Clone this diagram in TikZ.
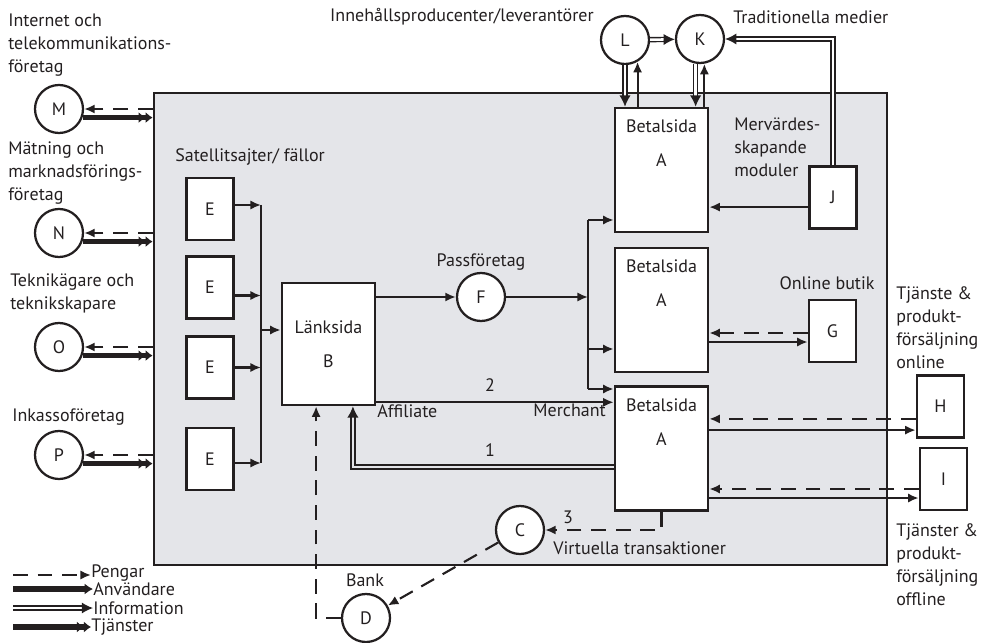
\documentclass[tikz,border=0pt]{standalone}
\usepackage{fontspec}
\setmainfont{PT Sans}
\usetikzlibrary{arrows.meta}
\definecolor{portalink}{HTML}{231F20}
\definecolor{portalgrey}{HTML}{E4E5E9}

\begin{document}
\begin{tikzpicture}[
  x=0.025cm,
  y=-0.025cm,
  every node/.style={font=\fontsize{12.8pt}{16.3pt}\selectfont, text=portalink},
  pagebox/.style={draw=portalink, line width=1.8pt, fill=white, align=center,
    minimum width=1.175cm, minimum height=1.55cm, inner sep=0pt},
  sitebox/.style={pagebox, minimum width=2.325cm, minimum height=3.1cm},
  actor/.style={circle, draw=portalink, line width=1.6pt, fill=white,
    minimum size=1.2cm, inner sep=0pt},
  tag/.style={inner sep=0pt, align=left},
  wire/.style={draw=portalink, line width=1.5pt},
  flow/.style={wire, -{Latex[length=7.5pt,width=6.5pt]}},
  pengar/.style={flow, dash pattern=on 10.5pt off 7pt},
  info/.style={draw=portalink, line width=1pt, double=#1, double distance=1.8pt,
    -{Latex[length=8pt,width=8pt]}},
  info/.default=portalgrey,
  anvandare/.style={draw=portalink, line width=3.8pt, -{Latex[length=6pt,width=8pt]}},
  tjanster/.style={draw=portalink, line width=3.8pt,
    -{Latex[length=5pt,width=8pt]Latex[length=5pt,width=8pt]}}
]
  \useasboundingbox (0,0) rectangle (982,643);

  % the portal
  \node[draw=portalink, line width=1.8pt, fill=portalgrey, inner sep=0pt,
    minimum width=18.325cm, minimum height=11.8cm] (portal) at (520.5,329) {};

  % actors on the left
  \node[actor] (M) at (59,109) {M};
  \node[actor] (N) at (59,233) {N};
  \node[actor] (O) at (59,347) {O};
  \node[actor] (P) at (59,455) {P};
  \node[tag, anchor=west] (Mt) at (8,45) {Internet och\\telekommunikations-\\företag};
  \node[tag, anchor=west] (Nt) at (8,173) {Mätning och\\marknadsförings-\\företag};
  \node[tag, anchor=west] (Ot) at (10,293) {Teknikägare och\\teknikskapare};
  \node[tag, anchor=west] (Pt) at (12,417) {Inkassoföretag};
  \foreach \a in {M,N,O,P} {
    \draw[pengar] (portal.west |- \a) -- (\a);
    \draw[tjanster] (\a.-20) -- (\a.-20 -| portal.west);
  }

  % satellites
  \node[tag, anchor=west] (sat) at (175,157) {Satellitsajter/ fällor};
  \foreach \i/\y in {1/209,2/287.5,3/367.5,4/459}
    \node[pagebox] (E\i) at (210,\y) {E};
  \node[pagebox, minimum width=2.325cm, minimum height=3.05cm] (B) at (328.5,344) {Länksida\\[7.8pt]B};
  \coordinate (ebus) at (261,330);
  \foreach \i/\s in {1/0.1,2/-0.2,3/0,4/-0.1}
    \draw[flow] ([yshift=\s cm]E\i.east) -- ([yshift=\s cm]E\i.east -| ebus);
  \draw[wire] ([yshift=0.1cm]E1.east -| ebus) -- ([yshift=-0.1cm]E4.east -| ebus);
  \draw[flow] (ebus) -- (ebus -| B.west);

  % pay sites
  \foreach \i/\y in {1/170,2/310,3/448.5} {
    \node[sitebox] (A\i) at (661.5,\y) {};
    \node[anchor=north, align=center, inner sep=0pt] (At\i) at ([yshift=-0.33cm]A\i.north) {Betalsida\\[7.8pt]A};
  }

  \node[actor] (F) at (481,297) {F};
  \node[tag] (Ft) at (481,262) {Passföretag};
  \draw[flow] (B.east |- F) -- (F);
  \coordinate (abus1) at (588,220);
  \coordinate (abus2) at (588,349);
  \coordinate (abus3) at (588,389);
  \draw[flow] (F) -- (F -| abus1);
  \draw[wire] (abus1) -- (abus3);
  \foreach \i in {1,2,3}
    \draw[flow] (abus\i) -- (abus\i -| A\i.west);

  % affiliate and merchant
  \draw[flow] ([yshift=0.1cm]B.south east) -- ([yshift=0.1cm]B.south east -| A3.west);
  \node[tag] (two) at (490,385) {2};
  \node[tag, anchor=north west] (aff) at (377,404) {Affiliate};
  \node[tag, anchor=north east] (mer) at (606,404) {Merchant};
  \draw[info] ([yshift=-0.46cm]A3.west) -| ([xshift=0.61cm]B.south);
  \node[tag] (one) at (490,450) {1};

  % bank
  \node[actor] (C) at (520,530) {C};
  \node[actor] (D) at (366,618) {D};
  \node[tag] (bank) at (365,580) {Bank};
  \draw[pengar] (D.west) -| ([xshift=-0.31cm]B.south);
  \draw[pengar] (A3.south) |- (C);
  \draw[pengar] (C) -- (D);
  \node[tag] (three) at (568,517) {3};
  \node[tag, anchor=west] (virt) at (553,548) {Virtuella transaktioner};

  % shops
  \node[pagebox] (G) at (832.5,331) {G};
  \node[tag] (Gt) at (827,283) {Online butik};
  \draw[pengar] ([yshift=-0.05cm]G.west) -- ([yshift=-0.05cm]G.west -| A2.east);
  \draw[flow] ([yshift=-0.275cm]G.west -| A2.east) -- ([yshift=-0.275cm]G.west);
  \node[pagebox] (H) at (940.5,406.5) {H};
  \draw[pengar] ([yshift=-0.31cm]H.west) -- ([yshift=-0.31cm]H.west -| A3.east);
  \draw[flow] ([yshift=-0.59cm]H.west -| A3.east) -- ([yshift=-0.59cm]H.west);
  \node[pagebox] (I) at (943.5,479) {I};
  \draw[pengar] ([yshift=-0.25cm]I.west) -- ([yshift=-0.25cm]I.west -| A3.east);
  \draw[flow] ([yshift=-0.475cm]I.west -| A3.east) -- ([yshift=-0.475cm]I.west);
  \node[tag, anchor=west] (Ht) at (896,328) {Tjänste \&\\produkt-\\försäljning\\online};
  \node[tag, anchor=west] (It) at (896,565) {Tjänster \&\\produkt-\\försäljning\\offline};

  % content and media
  \node[actor] (L) at (625,40) {L};
  \node[actor] (K) at (700,39) {K};
  \node[tag, anchor=east] (Lt) at (594,17) {Innehållsproducenter/leverantörer};
  \node[tag, anchor=west] (Kt) at (733,17) {Traditionella medier};
  \draw[info=white] (L) -- (K);
  \draw[info=white] (L.south) -- (L.south |- A1.north);
  \draw[flow] (L.-60 |- A1.north) -- (L.-60);
  \draw[info=white] (K.-100) -- (K.-100 |- A1.north);
  \draw[flow] (K.-80 |- A1.north) -- (K.-80);
  \node[pagebox] (J) at (833,197.5) {J};
  \node[tag, anchor=west] (Jt) at (734,147) {Mervärdes-\\skapande\\moduler};
  \draw[flow] ([yshift=-0.24cm]J.west) -- ([yshift=-0.24cm]J.west -| A1.east);
  \draw[info=white] (J.north) |- (K);

  % legend
  \coordinate (lg1) at (13,575);
  \coordinate (lg2) at (13,589);
  \coordinate (lg3) at (13,608);
  \coordinate (lg4) at (13,627);
  \node[tag, anchor=west] (lgPengar) at (91,573) {Pengar};
  \node[tag, anchor=west] (lgAnv) at (93,589) {Användare};
  \node[tag, anchor=west] (lgInfo) at (93,608) {Information};
  \node[tag, anchor=west] (lgTj) at (91,627) {Tjänster};
  \draw[pengar] (lg1) -- (lg1 -| lgPengar.west);
  \draw[anvandare] (lg2) -- (lg2 -| lgAnv.west);
  \draw[info=white] (lg3) -- (lg3 -| lgInfo.west);
  \draw[tjanster] (lg4) -- (lg4 -| lgTj.west);
\end{tikzpicture}
\end{document}
